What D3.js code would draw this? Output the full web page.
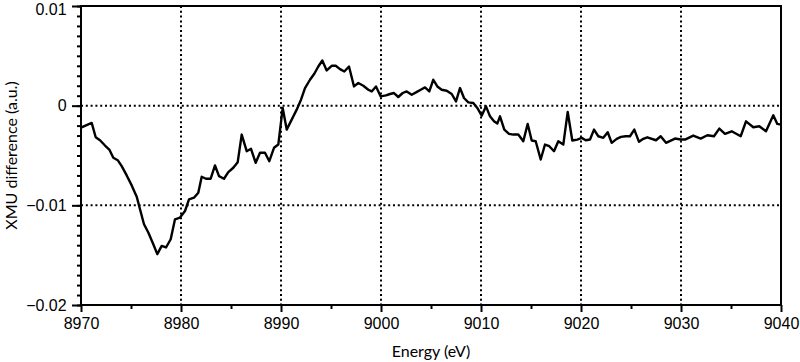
<!DOCTYPE html>
<html><head><meta charset="utf-8">
<script src="https://cdn.jsdelivr.net/npm/d3@7"></script>
<style>body{margin:0;background:#fff;} svg{display:block;font-family:"Lato","Noto Sans",sans-serif;}</style>
</head><body><svg id="c" width="800" height="362"></svg>
<script>
const energy = [8970.0,8971.07,8971.47,8971.9,8972.4,8972.83,8973.23,8973.67,8974.07,8974.57,8975.07,8975.57,8975.9,8976.3,8976.73,8977.23,8977.63,8978.07,8978.5,8978.97,8979.4,8979.9,8980.4,8980.8,8981.3,8981.73,8982.07,8982.5,8982.97,8983.4,8983.8,8984.3,8984.73,8985.23,8985.67,8986.07,8986.57,8987.0,8987.47,8987.9,8988.4,8988.83,8989.3,8989.73,8990.17,8990.57,8991.07,8991.57,8992.0,8992.4,8992.9,8993.33,8993.73,8994.13,8994.57,8995.07,8995.47,8995.9,8996.33,8996.8,8997.3,8997.73,8998.23,8998.73,8999.07,8999.5,8999.97,9000.5,9000.9,9001.3,9001.73,9002.17,9002.57,9003.07,9003.5,9003.97,9004.4,9004.83,9005.23,9005.63,9006.07,9006.57,9007.07,9007.5,9007.9,9008.3,9008.73,9009.23,9009.63,9010.07,9010.5,9010.9,9011.3,9011.63,9011.9,9012.33,9012.8,9013.23,9013.73,9014.23,9014.67,9015.07,9015.47,9015.97,9016.4,9016.83,9017.3,9017.73,9018.23,9018.67,9019.13,9019.63,9020.07,9020.47,9020.9,9021.3,9021.73,9022.23,9022.67,9023.07,9023.57,9024.0,9024.47,9024.9,9025.33,9025.8,9026.23,9026.63,9027.5,9027.97,9028.5,9029.4,9029.97,9030.4,9031.23,9031.97,9032.63,9033.3,9033.83,9034.4,9035.07,9035.97,9036.5,9037.23,9037.83,9038.5,9039.23,9039.63,9040.0];
const xmu = [-0.0022,-0.00173,-0.00317,-0.00347,-0.0040,-0.0044,-0.00523,-0.00547,-0.00607,-0.0070,-0.0080,-0.00913,-0.0104,-0.0119,-0.01273,-0.0139,-0.0149,-0.01407,-0.01423,-0.0134,-0.0114,-0.01123,-0.01057,-0.0094,-0.00923,-0.00873,-0.00713,-0.00733,-0.00733,-0.0060,-0.00707,-0.00733,-0.00667,-0.00623,-0.00567,-0.0029,-0.00457,-0.00433,-0.00573,-0.00473,-0.00473,-0.00557,-0.00423,-0.0039,-0.00023,-0.0024,-0.0014,-0.0004,0.0006,0.00177,0.0026,0.0032,0.00393,0.00453,0.00353,0.0040,0.0040,0.00367,0.00343,0.00393,0.00193,0.00227,0.0020,0.0016,0.00143,0.00193,0.00093,0.00103,0.00117,0.00127,0.00087,0.00127,0.00143,0.0011,0.00133,0.0016,0.00183,0.00143,0.0026,0.00193,0.0016,0.0015,0.00117,0.00043,0.00177,0.00077,0.00033,0.00027,-0.00023,-0.0010,-0.00007,-0.00107,-0.00157,-0.0018,-0.00107,-0.0024,-0.00283,-0.0029,-0.0029,-0.00357,-0.00183,-0.0035,-0.00357,-0.0054,-0.0039,-0.00407,-0.00457,-0.00357,-0.0039,-0.00063,-0.0035,-0.0034,-0.00323,-0.00347,-0.0034,-0.0024,-0.00307,-0.00323,-0.00267,-0.00373,-0.00333,-0.00313,-0.00307,-0.00307,-0.0024,-0.00363,-0.00333,-0.00317,-0.00347,-0.00307,-0.00373,-0.0033,-0.0034,-0.0034,-0.0030,-0.0033,-0.00297,-0.00307,-0.0023,-0.00283,-0.00257,-0.00307,-0.00157,-0.00217,-0.00207,-0.00257,-0.00097,-0.00183,-0.0019];
const xTicks = [8970,8980,8990,9000,9010,9020,9030,9040];
const yTicks = [0.01,0,-0.01,-0.02];
const yTickLabels = ["0.01","0","\u22120.01","\u22120.02"];
const xGrid = [8980,8990,9000,9010,9020,9030];
const yGrid = [0,-0.01];

const svg = d3.select("#c");
const L=81, R=781, T=6, B=305;
const x = d3.scaleLinear().domain([8970,9040]).range([L,R]);
const y = d3.scaleLinear().domain([-0.02,0.01]).range([B,T]);

const g = svg.append("g");
g.selectAll(".vg").data(xGrid).join("line")
  .attr("x1",d=>x(d)).attr("x2",d=>x(d)).attr("y1",T).attr("y2",B)
  .attr("stroke","#000").attr("stroke-width",2).attr("stroke-dasharray","2,2.8");
g.selectAll(".hg").data(yGrid).join("line")
  .attr("x1",L).attr("x2",R).attr("y1",d=>y(d)).attr("y2",d=>y(d))
  .attr("stroke","#000").attr("stroke-width",2).attr("stroke-dasharray","2,2.8");

const xAxis = d3.axisBottom(x).tickValues(xTicks).tickSize(7).tickFormat(d3.format("d"));
const xMinor = d3.axisBottom(x).tickValues(d3.range(8975,9040,10)).tickSize(4).tickFormat("");
const yAxis = d3.axisLeft(y).tickValues(yTicks).tickSize(9).tickFormat((d,i)=>yTickLabels[i]);
const yMinor = d3.axisLeft(y).tickValues(d3.range(-20,11).map(v=>v/1000)).tickSize(4).tickFormat("");

function style(sel){
  sel.select(".domain").remove();
  sel.selectAll("line").attr("stroke","#000").attr("stroke-width",2);
  sel.selectAll("text").attr("fill","#000").style("font-size","16px");
}
svg.append("g").attr("transform",`translate(0,${B})`).call(xMinor).call(style);
svg.append("g").attr("transform",`translate(0,${B})`).call(xAxis).call(style)
  .selectAll("text").attr("dy","0.85em");
svg.append("g").attr("transform",`translate(${L},0)`).call(yMinor).call(style);
svg.append("g").attr("transform",`translate(${L},0)`).call(yAxis).call(style)
  .selectAll("text").attr("dx","-0.15em").attr("dy",(d,i)=>i===0?"0.5em":"0.32em");

svg.append("defs").append("clipPath").attr("id","clip").append("rect")
  .attr("x",L).attr("y",T).attr("width",R-L).attr("height",B-T);
const line = d3.line().x((d,i)=>x(energy[i])).y(d=>y(d));
svg.append("path").datum(xmu).attr("d",line).attr("fill","none")
  .attr("stroke","#000").attr("stroke-width",2.4).attr("stroke-linejoin","round")
  .attr("clip-path","url(#clip)");

svg.append("rect").attr("x",L).attr("y",T).attr("width",R-L).attr("height",B-T)
  .attr("fill","none").attr("stroke","#000").attr("stroke-width",2);

svg.append("text").attr("x",(L+R)/2).attr("y",357).attr("text-anchor","middle")
  .style("font-size","16px").text("Energy (eV)");
svg.append("text").attr("transform",`translate(17,${(T+B)/2}) rotate(-90)`)
  .attr("text-anchor","middle").style("font-size","16px").text("XMU difference (a.u.)");
</script></body></html>
